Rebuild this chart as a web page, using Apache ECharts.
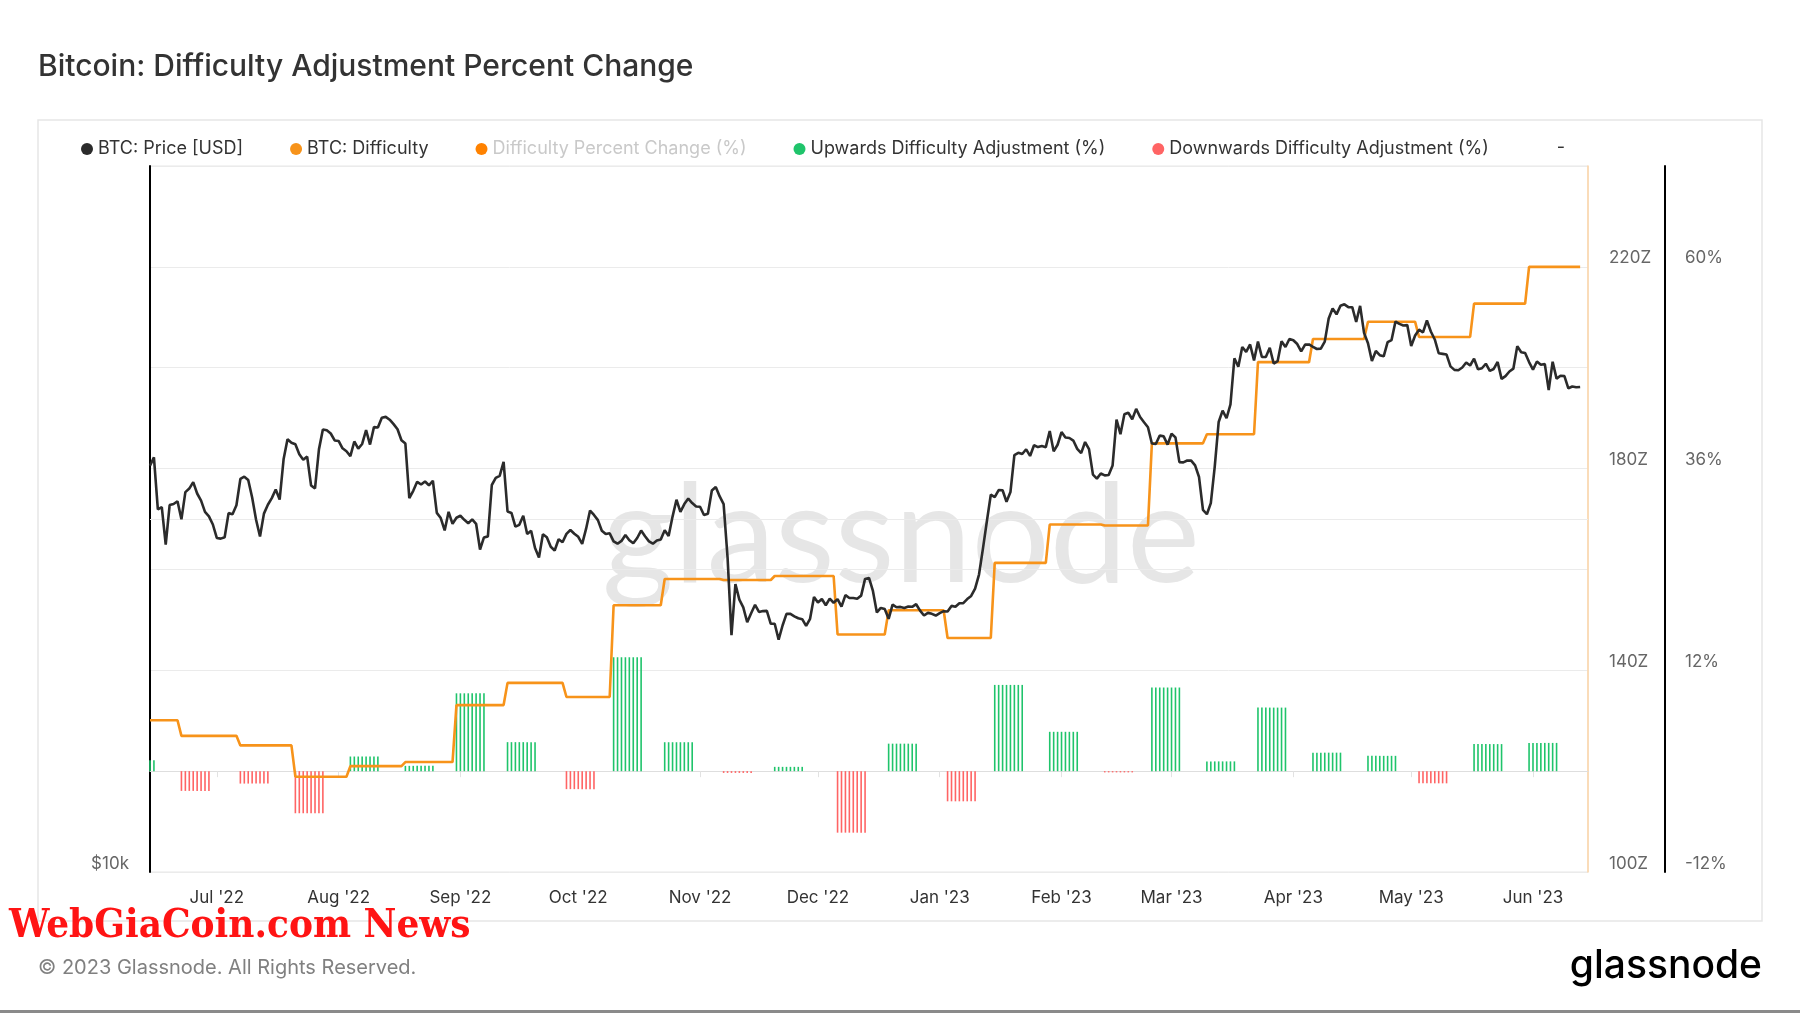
<!DOCTYPE html>
<html>
<head>
<meta charset="utf-8">
<title>Bitcoin: Difficulty Adjustment Percent Change</title>
<script src="https://cdn.jsdelivr.net/npm/echarts@6/dist/echarts.min.js"></script>
<style>
html, body { margin: 0; padding: 0; background: #fff; }
#chart { width: 1800px; height: 1013px; }
</style>
</head>
<body>
<div id="chart"></div>
<script>
// daily axis: 2022-06-14 .. 2023-06-15
var firstDay = '2022-06-14';
var dayCount = 367;

// BTC price [USD], daily from 2022-06-14 to 2023-06-13
var price = [
  22206, 22572, 20381, 20471, 19017, 20553, 20599, 20710, 19987, 21085, 21232, 21502, 21027, 20735, 20280, 20104, 19785,
  19269, 19243, 19297, 20232, 20190, 20548, 21637, 21731, 21592, 20861, 19970, 19323, 20212, 20569, 20836, 21190, 20779, 22485, 23390, 23231, 23164, 22714, 22465, 22609, 21361, 21239, 22930, 23843, 23804, 23656, 23336,
  23314, 22978, 22846, 22630, 23289, 22961, 23175, 23810, 23149, 23954, 23934, 24403, 24441, 24305, 24094, 23854, 23342, 23191, 20834, 21140, 21515, 21400, 21529, 21368, 21560, 20241, 20037, 19555, 20285, 19812, 20050,
  20127, 19969, 19832, 19986, 19812, 18837, 19290, 19329, 21381, 21680, 21769, 22371, 20296, 20241, 19701, 19772, 20127, 19420, 19544, 18891, 18547, 19413, 19297, 18937, 18802, 19222, 19110, 19426, 19573, 19431,
  19312, 19044, 19623, 20336, 20160, 19955, 19546, 19416, 19446, 19141, 19052, 19157, 19382, 19185, 19067, 19268, 19550, 19334, 19139, 19053, 19172, 19208, 19567, 19345, 20095, 20771, 20285, 20595, 20818, 20635, 20495,
  20485, 20159, 20209, 21148, 21300, 20905, 20591, 18547, 15922, 17602, 17070, 16812, 16330, 16619, 16900, 16662, 16692, 16700, 16280, 16281, 15781, 16226, 16603, 16599, 16522, 16458, 16428, 16212, 16442, 17163,
  16977, 17092, 16885, 17105, 16967, 17089, 16836, 17224, 17128, 17128, 17104, 17206, 17781, 17815, 17364, 16647, 16796, 16757, 16439, 16906, 16818, 16830, 16796, 16841, 16833, 16919, 16707, 16548, 16633, 16602, 16547,
  16625, 16688, 16680, 16863, 16836, 16951, 16955, 17091, 17197, 17446, 17934, 18869, 19910, 20977, 20881, 21170, 21161, 20689, 21086, 22676, 22777, 22721, 22934, 22636, 23117, 23032, 23078, 23031, 23774, 22840, 23139,
  23723, 23471, 23449, 23331, 22955, 22761, 23264, 22939, 21819, 21651, 21870, 21788, 21808, 22220, 24307, 23623, 24565, 24641, 24327, 24829, 24436, 24188, 23947, 23198, 23175, 23561, 23522, 23147,
  23646, 23475, 22362, 22353, 22435, 22429, 22219, 21718, 20363, 20187, 20633, 22163, 24197, 24746, 24375, 25052, 27423, 26966, 28038, 27767, 28176, 27307, 28333, 27493, 27494, 27994, 27139, 27268, 28348, 28033, 28478,
  28411, 28199, 27790, 28168, 28177, 28044, 27925, 27947, 28333, 29653, 30235, 29892, 30400, 30485, 30318, 30315, 29445, 30397, 28823, 28245, 27276, 27817, 27591, 27525, 28307, 28422, 29473, 29340, 29248, 29268,
  28091, 28680, 29006, 28847, 29534, 28904, 28454, 27694, 27658, 27621, 26988, 26805, 26784, 26931, 27192, 27036, 27398, 26833, 26890, 27129, 26753, 26851, 27225, 26334, 26476, 26719, 26868, 28085, 27745, 27702, 27219,
  26819, 27249, 27075, 27119, 25760, 27238, 26346, 26498, 26478, 25851, 25940, 25902, 25919
];

// difficulty adjustments: date, new difficulty [Z], percent change
var adjDates = ['2022-06-08', '2022-06-22', '2022-07-07', '2022-07-21', '2022-08-04', '2022-08-18', '2022-08-31',
  '2022-09-13', '2022-09-28', '2022-10-10', '2022-10-23', '2022-11-07', '2022-11-20', '2022-12-06', '2022-12-19',
  '2023-01-03', '2023-01-15', '2023-01-29', '2023-02-12', '2023-02-24', '2023-03-10', '2023-03-23', '2023-04-06',
  '2023-04-20', '2023-05-03', '2023-05-17', '2023-05-31'];
var adjLevel = [130.1, 127.0, 125.1, 118.9, 121.0, 121.8, 133.1, 137.5, 134.7, 152.9, 158.1, 157.9, 158.7, 147.1,
  151.9, 146.4, 161.3, 168.9, 168.7, 185.0, 186.8, 201.1, 205.7, 209.1, 206.1, 212.7, 220.0];
var adjPct = [1.3, -2.35, -1.48, -5.01, 1.74, 0.63, 9.26, 3.45, -2.14, 13.55, 3.44, -0.21, 0.51, -7.32, 3.27,
  -3.59, 10.26, 4.68, -0.15, 9.95, 1.16, 7.56, 2.20, 1.82, -1.45, 3.22, 3.36];
var barDays = 8; // bars shown for the first days after each adjustment

var monthNames = ['Jan', 'Feb', 'Mar', 'Apr', 'May', 'Jun', 'Jul', 'Aug', 'Sep', 'Oct', 'Nov', 'Dec'];
var DAY = 86400000;

function isoDay(ms) {
  return new Date(ms).toISOString().slice(0, 10);
}

var t0 = Date.parse(firstDay + 'T00:00:00Z');
var dates = [];
for (var i = 0; i < dayCount; i++) dates.push(isoDay(t0 + i * DAY));

// difficulty in effect on each day of the price series
var difficulty = [];
for (var j = 0; j < price.length; j++) {
  var k = 0;
  while (k + 1 < adjDates.length && adjDates[k + 1] <= dates[j]) k++;
  difficulty.push(adjLevel[k]);
}

// up / down bars for the days after each adjustment
var upBars = dates.map(function () { return '-'; });
var downBars = dates.map(function () { return '-'; });
adjDates.forEach(function (d, n) {
  var s = Date.parse(d + 'T00:00:00Z');
  for (var b = 0; b < barDays; b++) {
    var idx = dates.indexOf(isoDay(s + b * DAY));
    if (idx < 0) continue;
    if (adjPct[n] >= 0) upBars[idx] = adjPct[n];
    else downBars[idx] = adjPct[n];
  }
});

var FONT = 'Inter, "Noto Sans", sans-serif';
var monthStart = function (index, value) { return value.slice(8) === '01'; };

var chart = echarts.init(document.getElementById('chart'));

chart.setOption({
  animation: false,
  backgroundColor: '#fff',
  textStyle: { fontFamily: FONT },
  title: {
    text: 'Bitcoin: Difficulty Adjustment Percent Change',
    left: 33,
    top: 47,
    textStyle: { fontFamily: FONT, fontSize: 30, fontWeight: 500, color: '#333' }
  },
  legend: {
    left: 76,
    top: 135,
    icon: 'circle',
    itemWidth: 12,
    itemHeight: 12,
    itemGap: 47,
    selectedMode: false,
    textStyle: { fontFamily: FONT, fontSize: 18, color: '#333' },
    data: [
      'BTC: Price [USD]',
      'BTC: Difficulty',
      { name: 'Difficulty Percent Change (%)', textStyle: { color: '#c9c9c9' } },
      'Upwards Difficulty Adjustment (%)',
      'Downwards Difficulty Adjustment (%)'
    ]
  },
  grid: {
    left: 150, right: 212, top: 166, bottom: 141,
    show: true, borderColor: '#e6e6e6', borderWidth: 1, backgroundColor: 'transparent'
  },
  xAxis: {
    type: 'category',
    data: dates,
    boundaryGap: false,
    axisLine: { lineStyle: { color: '#dedede', width: 1 } },
    axisTick: { show: true, interval: monthStart, length: 6, lineStyle: { color: '#e2e2e2' } },
    axisLabel: {
      interval: monthStart,
      margin: 17,
      fontSize: 17,
      color: '#333',
      fontFamily: FONT,
      formatter: function (v) {
        return monthNames[+v.slice(5, 7) - 1] + " '" + v.slice(2, 4);
      }
    },
    splitLine: { show: false }
  },
  yAxis: [
    {
      type: 'log',
      position: 'left',
      min: 10000,
      max: 40000,
      axisLine: { show: true, lineStyle: { color: '#000', width: 2 } },
      axisTick: { show: false },
      splitLine: { show: false },
      axisLabel: {
        margin: 21,
        fontSize: 17,
        color: '#666',
        fontFamily: FONT,
        verticalAlign: 'bottom',
        formatter: function (v) { return Math.abs(v - 10000) < 1 ? '$10k' : ''; }
      }
    },
    {
      type: 'value',
      position: 'right',
      min: 100,
      max: 240,
      interval: 20,
      axisLine: { show: true, lineStyle: { color: '#fdd5a6', width: 1.5 } },
      axisTick: { show: false },
      splitLine: { show: true, lineStyle: { color: '#ebebeb', width: 1 } },
      axisLabel: {
        margin: 21,
        fontSize: 17,
        color: '#666',
        fontFamily: FONT,
        verticalAlign: 'bottom',
        formatter: function (v) { return ((v - 100) % 40 === 0 && v < 240) ? v + 'Z' : ''; }
      }
    },
    {
      type: 'value',
      position: 'right',
      offset: 77,
      min: -12,
      max: 72,
      interval: 24,
      axisLine: { show: true, lineStyle: { color: '#000', width: 2 } },
      axisTick: { show: false },
      splitLine: { show: false },
      axisLabel: {
        margin: 20,
        fontSize: 17,
        color: '#666',
        fontFamily: FONT,
        verticalAlign: 'bottom',
        formatter: function (v) { return v < 72 ? v + '%' : ''; }
      }
    }
  ],
  series: [
    {
      name: 'BTC: Price [USD]',
      type: 'line',
      yAxisIndex: 0,
      data: price,
      symbol: 'none',
      z: 4,
      itemStyle: { color: '#2b2b2b' },
      lineStyle: { color: '#2b2b2b', width: 2.6 },
      markLine: {
        silent: true,
        symbol: 'none',
        z: 1,
        label: { show: false },
        lineStyle: { color: '#ebebeb', width: 1, type: 'solid' },
        data: [{ yAxis: 20000 }]
      }
    },
    {
      name: 'BTC: Difficulty',
      type: 'line',
      yAxisIndex: 1,
      data: difficulty,
      symbol: 'none',
      z: 3,
      itemStyle: { color: '#f7931a' },
      lineStyle: { color: '#f7931a', width: 2.6 }
    },
    {
      name: 'Difficulty Percent Change (%)',
      type: 'line',
      yAxisIndex: 2,
      data: [],
      symbol: 'none',
      itemStyle: { color: '#ff8200' }
    },
    {
      name: 'Upwards Difficulty Adjustment (%)',
      type: 'bar',
      yAxisIndex: 2,
      data: upBars,
      barWidth: 1.6,
      barGap: '-100%',
      z: 2,
      itemStyle: { color: '#1fc46b' }
    },
    {
      name: 'Downwards Difficulty Adjustment (%)',
      type: 'bar',
      yAxisIndex: 2,
      data: downBars,
      barWidth: 1.6,
      barGap: '-100%',
      z: 2,
      itemStyle: { color: '#ff6464' }
    }
  ],
  graphic: [
    {
      type: 'rect', z: -1, silent: true,
      shape: { x: 38, y: 120, width: 1724, height: 801 },
      style: { fill: 'none', stroke: '#e6e6e6', lineWidth: 1.5 }
    },
    {
      type: 'text', z: 0, silent: true, x: 901, y: 537,
      style: { text: 'glassnode', fontFamily: 'Lato, sans-serif', fontSize: 138, fill: '#e6e6e6', align: 'center', verticalAlign: 'middle' }
    },
    {
      type: 'text', silent: true, x: 1561, y: 148,
      style: { text: '-', fontFamily: FONT, fontSize: 18, fill: '#333', align: 'center', verticalAlign: 'middle' }
    },
    {
      type: 'text', silent: true, x: 9, y: 927,
      style: { text: 'WebGiaCoin.com News', fontFamily: '"DejaVu Serif Condensed", "Liberation Sans Narrow", sans-serif', fontWeight: 'bold', fontSize: 40, fill: '#ff1414', verticalAlign: 'middle' }
    },
    {
      type: 'text', silent: true, x: 38, y: 968,
      style: { text: '\u00a9 2023 Glassnode. All Rights Reserved.', fontFamily: FONT, fontSize: 20, fill: '#808080', verticalAlign: 'middle' }
    },
    {
      type: 'text', silent: true, x: 1762, y: 966,
      style: { text: 'glassnode', fontFamily: FONT, fontSize: 39, fontWeight: 500, fill: '#000', align: 'right', verticalAlign: 'middle' }
    },
    {
      type: 'rect', silent: true,
      shape: { x: 0, y: 1010, width: 1800, height: 3 },
      style: { fill: '#8a8a8a' }
    }
  ]
});
</script>
</body>
</html>
